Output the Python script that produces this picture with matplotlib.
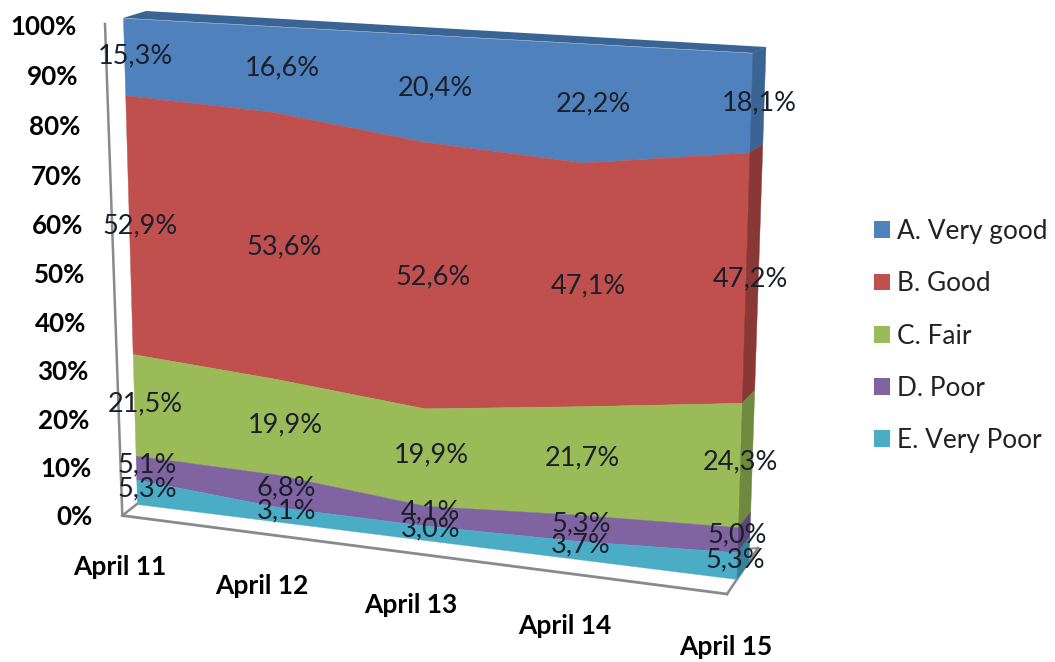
import numpy as np
import matplotlib
matplotlib.use("Agg")
import matplotlib.pyplot as plt
from matplotlib.patches import Patch
from matplotlib.transforms import Transform

plt.rcParams['font.family'] = ['Lato', 'DejaVu Sans']

days = ['April 11', 'April 12', 'April 13', 'April 14', 'April 15']
series = ['A. Very good', 'B. Good', 'C. Fair', 'D. Poor', 'E. Very Poor']
very_good = [15.3, 16.6, 20.4, 22.2, 18.1]
good = [52.9, 53.6, 52.6, 47.1, 47.2]
fair = [21.5, 19.9, 19.9, 21.7, 24.3]
poor = [5.1, 6.8, 4.1, 5.3, 5.0]
very_poor = [5.3, 3.1, 3.0, 3.7, 5.3]
y_ticks = [0, 10, 20, 30, 40, 50, 60, 70, 80, 90, 100]

colors = ['#4f81bd', '#c0504d', '#9bbb59', '#8064a2', '#4bacc6']
side_colors = ['#3a6493', '#8a3836', '#6f8a3e', '#5c4679', '#35829a']
label_color = '#1b1f2b'
line_color = '#8a8a8a'


class Persp(Transform):
    # maps (day index, percent) onto a quad given in image pixels
    input_dims = 2
    output_dims = 2

    def __init__(self, bl, tl, tr, br):
        super().__init__()
        src = [(0, 0), (0, 1), (1, 1), (1, 0)]
        a, b = [], []
        for (u, v), (px, py) in zip(src, [bl, tl, tr, br]):
            a.append([u, v, 1, 0, 0, 0, -u * px, -v * px])
            a.append([0, 0, 0, u, v, 1, -u * py, -v * py])
            b += [px, py]
        self.h = np.append(np.linalg.solve(np.array(a, float), np.array(b, float)), 1).reshape(3, 3)

    def transform_non_affine(self, values):
        values = np.asarray(values, float)
        uv1 = np.column_stack([values[:, 0] / 4, values[:, 1] / 100, np.ones(len(values))])
        out = uv1 @ self.h.T
        return out[:, :2] / out[:, 2:]


front = Persp((137, 504), (123, 18), (753, 53), (737, 579))
back = Persp((160, 488), (146, 11), (766, 47), (749, 563))
labels_at = Persp((148, 501), (134, 16), (762, 53), (735, 573))
y_axis_at = Persp((93, 517), (77, 27), (707, 62), (708, 592))
x_axis_at = Persp((120, 567), (106, 81), (742, 121), (726, 647))


def pts(tr, x, y):
    return tr.transform_non_affine(np.column_stack([x, y]))


fig = plt.figure(figsize=(10.55, 6.62), dpi=100)
ax = fig.add_axes([0, 0, 1, 1])
ax.set_xlim(0, 1055)
ax.set_ylim(662, 0)
ax.axis('off')

# stack from the bottom, 100% stacked like the original
raw = np.array([very_good, good, fair, poor, very_poor])
values = raw / raw.sum(axis=0) * 100
x = np.arange(len(days))
upper = np.cumsum(values[::-1], axis=0)[::-1]
lower = upper - values

# axis lines
wall = pts(front, [0, 0], [-2.5, 100]) + [[-15, 0], [-18, 6]]
ax.plot(wall[:, 0], wall[:, 1], color=line_color, lw=1.8, zorder=1)
corner = wall[0]
floor_front = pts(front, [4], [0])[0] + [-10, 15]
ax.plot([corner[0], floor_front[0]], [corner[1], floor_front[1]], color=line_color, lw=2, zorder=1)
inner = pts(front, [0], [0])[0]
ax.plot([corner[0], inner[0]], [corner[1], inner[1]], color=line_color, lw=1.8, zorder=1)
floor_back = floor_front + [31, -46]
ax.plot([floor_front[0], floor_back[0]], [floor_front[1], floor_back[1]], color=line_color, lw=1.8, zorder=1)
ax.plot([floor_back[0], floor_back[0] - 12], [floor_back[1], floor_back[1] + 1], color=line_color, lw=1.4, zorder=1)

# top strip
top_f = pts(front, [0, 4], [100, 100])
top_b = pts(back, [0, 4], [100, 100])
strip = np.vstack([top_f, top_b[::-1]])
ax.fill(strip[:, 0], strip[:, 1], color=side_colors[0], lw=0, zorder=2)

# faces
for i in range(len(series)):
    ax.fill_between(x, lower[i], upper[i], transform=front + ax.transData,
                    color=colors[i], lw=0.3, zorder=3)
    f = pts(front, [4, 4], [lower[i][-1], upper[i][-1]])
    b = pts(back, [4, 4], [upper[i][-1], lower[i][-1]])
    side = np.vstack([f, b])
    ax.fill(side[:, 0], side[:, 1], color=side_colors[i], lw=0.3, zorder=3)

# data labels, text shows the values as read, not the rescaled ones
for i in range(len(series)):
    for j in range(len(days)):
        mid = lower[i][j] + values[i][j] / 2
        px, py = pts(labels_at, [j], [mid])[0]
        ax.text(px, py, f"{raw[i][j]:.1f}%".replace('.', ','), ha='center', va='center',
                fontsize=19.5, color=label_color, zorder=5)

# tick labels
for t in y_ticks:
    px, py = pts(y_axis_at, [0], [t])[0]
    ax.text(px, py, f"{t}%", ha='right', va='center', fontsize=18.7, fontweight='bold', color='black')
for j, d in enumerate(days):
    px, py = pts(x_axis_at, [j], [0])[0]
    ax.text(px, py, d, ha='center', va='center', fontsize=19, fontweight='bold', color='black')

handles = [Patch(facecolor=c, edgecolor='none') for c in colors]
ax.legend(handles, series, loc='center left', bbox_to_anchor=(861 / 1055, 1 - 336 / 662), frameon=False,
          fontsize=18.9, labelspacing=1.04, handlelength=0.61, handleheight=0.61, handletextpad=0.27,
          labelcolor='#222222', borderpad=0, borderaxespad=0.5)

fig.savefig('out.png', dpi=100)
